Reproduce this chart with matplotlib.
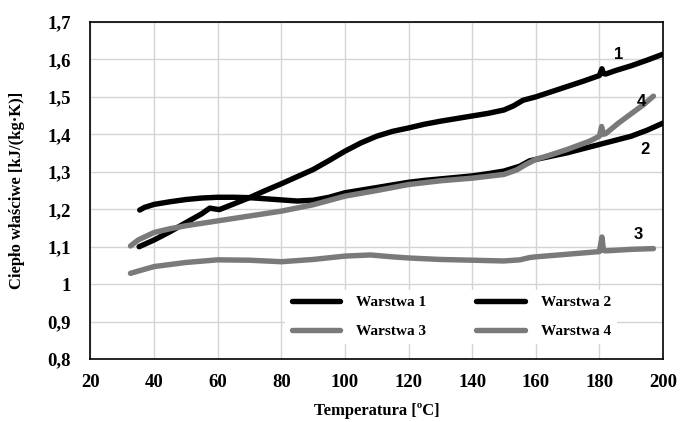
import matplotlib
matplotlib.use('Agg')
import matplotlib.pyplot as plt
from matplotlib.ticker import FuncFormatter, MultipleLocator

# --- data (temperature in C, cp in kJ/(kg K)) ---
t1 = [35.3, 40, 45, 51, 55, 57.5, 60.5, 65, 70, 75, 80, 85, 90, 95, 100, 105, 110,
      115, 120, 125, 130, 135, 140, 145, 150, 153, 156, 160, 165, 170, 175, 180,
      180.8, 181.3, 182, 185, 190, 195, 200]
cp1 = [1.100, 1.118, 1.140, 1.169, 1.188, 1.203, 1.199, 1.214, 1.231, 1.250, 1.268,
       1.287, 1.306, 1.330, 1.355, 1.377, 1.395, 1.408, 1.417, 1.427, 1.435, 1.442,
       1.449, 1.456, 1.465, 1.476, 1.491, 1.500, 1.514, 1.528, 1.542, 1.557,
       1.575, 1.562, 1.561, 1.570, 1.583, 1.598, 1.614]

t2 = [35.5, 37, 40, 45, 50, 55, 60, 65, 70, 75, 80, 85, 90, 95, 100, 105, 110, 115,
      120, 125, 130, 135, 140, 145, 150, 155, 158, 160, 165, 170, 175, 180, 185,
      190, 195, 200]
cp2 = [1.198, 1.205, 1.213, 1.220, 1.226, 1.230, 1.232, 1.232, 1.231, 1.228, 1.225,
       1.222, 1.224, 1.232, 1.244, 1.251, 1.258, 1.265, 1.272, 1.277, 1.281, 1.285,
       1.289, 1.295, 1.302, 1.315, 1.329, 1.333, 1.342, 1.351, 1.362, 1.373, 1.384,
       1.395, 1.411, 1.430]

t3 = [32.6, 35, 40, 50, 60, 70, 80, 90, 100, 108, 115, 120, 130, 140, 150, 155,
      158, 160, 170, 180, 180.8, 181.3, 182, 190, 197]
cp3 = [1.029, 1.035, 1.047, 1.058, 1.065, 1.064, 1.060, 1.066, 1.075, 1.078, 1.073,
       1.070, 1.066, 1.064, 1.062, 1.065, 1.071, 1.073, 1.080, 1.087, 1.126, 1.090,
       1.089, 1.093, 1.095]

t4 = [32.6, 35, 40, 45, 50, 60, 70, 80, 90, 100, 110, 120, 130, 140, 145, 150, 154,
      157, 160, 165, 170, 177, 180, 180.7, 181.2, 182, 186, 190, 194, 197]
cp4 = [1.102, 1.118, 1.138, 1.148, 1.156, 1.169, 1.182, 1.195, 1.212, 1.235, 1.250,
       1.266, 1.276, 1.283, 1.288, 1.293, 1.305, 1.320, 1.333, 1.346, 1.360, 1.382,
       1.395, 1.421, 1.400, 1.402, 1.430, 1.455, 1.480, 1.502]

names = ['Warstwa 1', 'Warstwa 2', 'Warstwa 3', 'Warstwa 4']
curve_tags = ['1', '2', '3', '4']
tag_pos = [(186, 1.612), (194.4, 1.359), (192.2, 1.133), (193.1, 1.487)]

black = '#000000'
grey = '#7a7a7a'

plt.rcParams['font.family'] = ['Liberation Serif', 'DejaVu Serif']

fig = plt.figure(figsize=(6.8, 4.22), dpi=100)
ax = fig.add_axes([0.133, 0.149, 0.842, 0.799])

series = [(t1, cp1, black), (t2, cp2, black), (t3, cp3, grey), (t4, cp4, grey)]
lines = []
for (t, cp, col), name in zip(series, names):
    ln, = ax.plot(t, cp, color=col, lw=3.9, solid_capstyle='round',
                  solid_joinstyle='round', label=name, zorder=3)
    lines.append(ln)

for tag, (tx, ty) in zip(curve_tags, tag_pos):
    ax.text(tx, ty, tag, fontsize=12, fontweight='bold', ha='center', va='center',
            family=['Liberation Sans', 'DejaVu Sans'], zorder=4)

ax.set_xlim(20, 200)
ax.set_ylim(0.8, 1.7)
ax.xaxis.set_major_locator(MultipleLocator(20))
ax.yaxis.set_major_locator(MultipleLocator(0.1))


def comma_fmt(v, pos):
    s = ('%.1f' % v).rstrip('0').rstrip('.')
    return s.replace('.', ',')


ax.yaxis.set_major_formatter(FuncFormatter(comma_fmt))
ax.grid(True, color='#d4d4d4', lw=1.0, zorder=0)
ax.set_axisbelow(True)
ax.tick_params(length=0, labelsize=13.5)
ax.tick_params(axis='y', pad=14)
ax.tick_params(axis='x', pad=11)
for lab in ax.get_xticklabels() + ax.get_yticklabels():
    lab.set_fontweight('bold')
for sp in ax.spines.values():
    sp.set_color('black')
    sp.set_linewidth(1.2)

ax.set_xlabel('Temperatura [ºC]', fontsize=12, fontweight='bold', labelpad=8)
ax.set_ylabel('Ciepło właściwe [kJ/(kg·K)]', fontsize=12, fontweight='bold',
              labelpad=16)

# row-wise legend order: 1 2 / 3 4
order = [0, 2, 1, 3]
leg = ax.legend([lines[i] for i in order], [names[i] for i in order],
                loc='center', bbox_to_anchor=(0.63, 0.125), ncol=2,
                frameon=True, facecolor='white', edgecolor='none', framealpha=1,
                fancybox=False, handlelength=3.2, columnspacing=3.3,
                handletextpad=1.0, labelspacing=1.0,
                prop={'weight': 'bold', 'size': 11})
leg.set_zorder(5)

fig.savefig('out.png', dpi=100)
